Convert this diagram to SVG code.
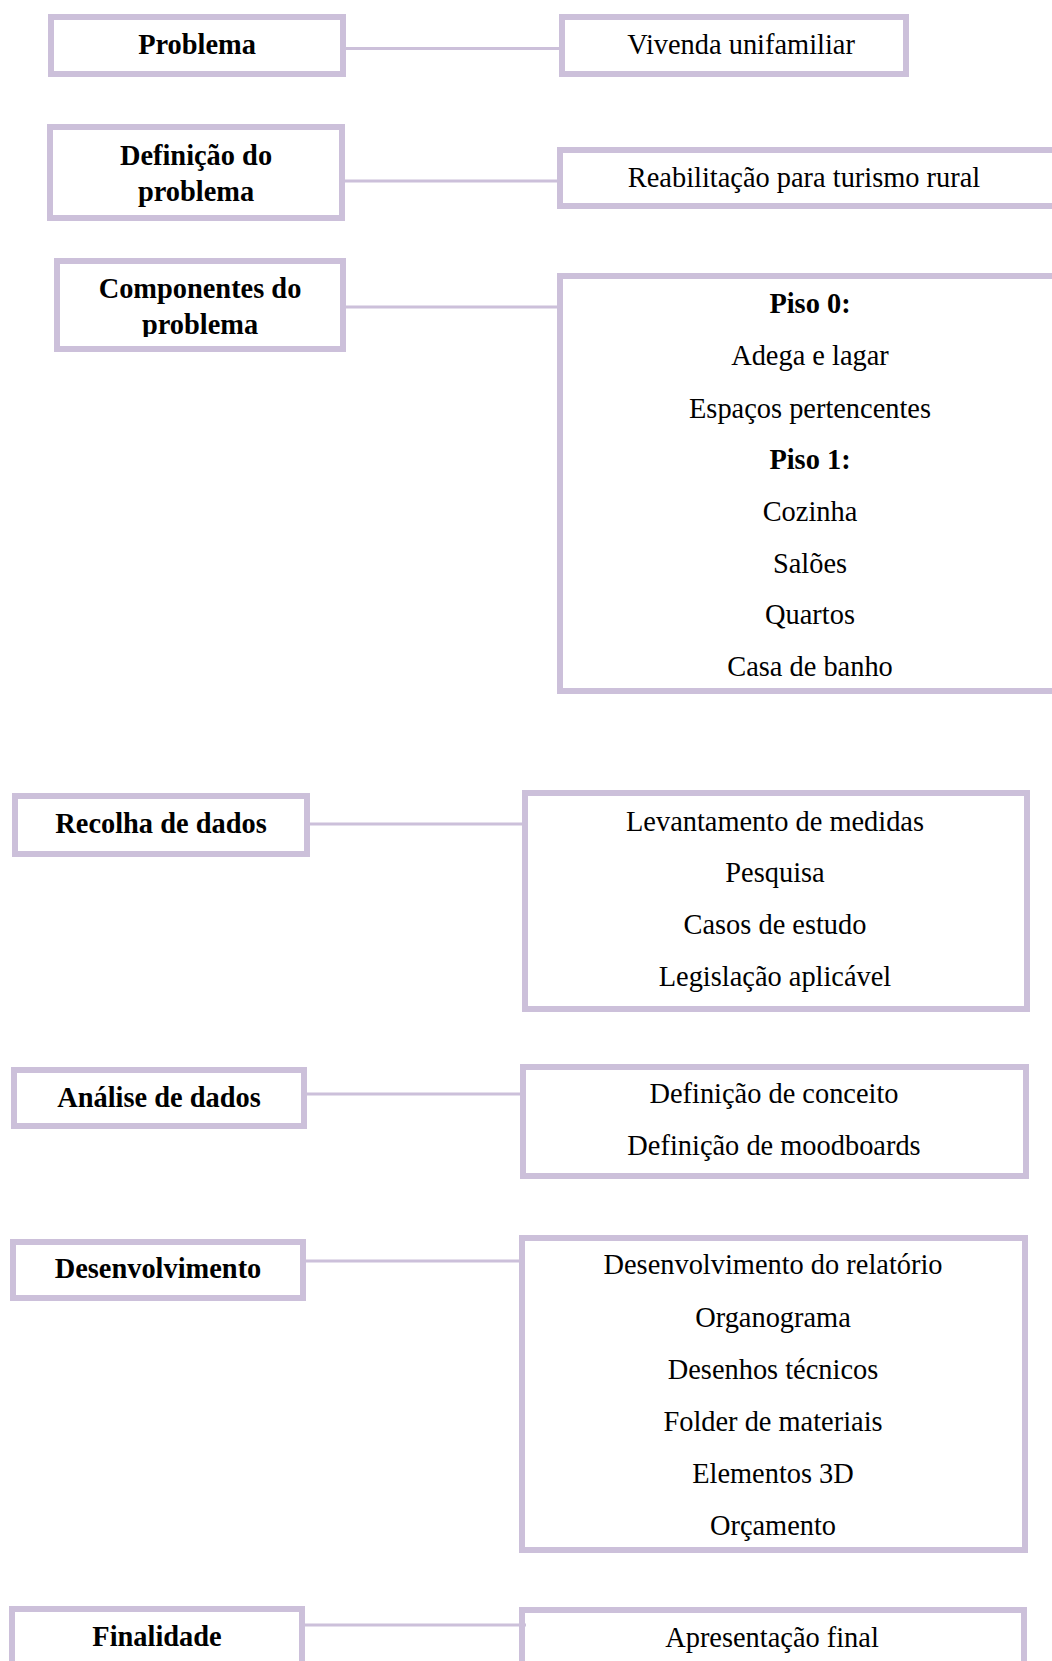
<svg xmlns="http://www.w3.org/2000/svg" width="1052" height="1661" viewBox="0 0 1052 1661">
<style>
.box{fill:#FFFFFF;stroke:#CCC0DA;stroke-width:6}
.con{stroke:#CCC0DA;stroke-width:3;fill:none}
text{font-family:"Liberation Serif","Times New Roman",serif;font-size:28.4px;fill:#000000;text-anchor:middle}
.b{font-weight:bold}
</style>
<defs>
<clipPath id="clip3"><rect x="57" y="261" width="286" height="76"/></clipPath>
</defs>
<rect x="0" y="0" width="1052" height="1661" fill="#FFFFFF"/>
<g id="n-problema">
<rect class="box" x="51" y="17" width="292" height="57"/>
<text class="b" x="197" y="54">Problema</text>
</g>
<g id="n-vivenda">
<rect class="box" x="562" y="17" width="344" height="57"/>
<text x="741" y="54">Vivenda unifamiliar</text>
</g>
<g id="n-definicao">
<rect class="box" x="50" y="127" width="292" height="91"/>
<text class="b" x="196" y="165">Definição do</text>
<text class="b" x="196" y="201">problema</text>
</g>
<g id="n-reabilitacao">
<rect class="box" x="560" y="150" width="502" height="56"/>
<text x="804" y="187">Reabilitação para turismo rural</text>
</g>
<g id="n-componentes">
<rect class="box" x="57" y="261" width="286" height="88"/>
<g clip-path="url(#clip3)">
<text class="b" x="200" y="298">Componentes do</text>
<text class="b" x="200" y="334">problema</text>
</g>
</g>
<g id="n-pisos">
<rect class="box" x="560" y="276" width="502" height="415"/>
<text class="b" x="810" y="312.5">Piso 0:</text>
<text x="810" y="364.5">Adega e lagar</text>
<text x="810" y="417.5">Espaços pertencentes</text>
<text class="b" x="810" y="468.5">Piso 1:</text>
<text x="810" y="520.5">Cozinha</text>
<text x="810" y="572.5">Salões</text>
<text x="810" y="624">Quartos</text>
<text x="810" y="676">Casa de banho</text>
</g>
<g id="n-recolha">
<rect class="box" x="15" y="796" width="292" height="58"/>
<text class="b" x="161" y="833">Recolha de dados</text>
</g>
<g id="n-recolha-itens">
<rect class="box" x="525" y="793" width="502" height="216"/>
<text x="775" y="831">Levantamento de medidas</text>
<text x="775" y="882">Pesquisa</text>
<text x="775" y="934">Casos de estudo</text>
<text x="775" y="986">Legislação aplicável</text>
</g>
<g id="n-analise">
<rect class="box" x="14" y="1070" width="290" height="56"/>
<text class="b" x="159" y="1107">Análise de dados</text>
</g>
<g id="n-analise-itens">
<rect class="box" x="523" y="1067" width="503" height="109"/>
<text x="774" y="1103">Definição de conceito</text>
<text x="774" y="1155">Definição de moodboards</text>
</g>
<g id="n-desenvolvimento">
<rect class="box" x="13" y="1242" width="290" height="56"/>
<text class="b" x="158" y="1278">Desenvolvimento</text>
</g>
<g id="n-desenvolvimento-itens">
<rect class="box" x="522" y="1238" width="503" height="312"/>
<text x="773" y="1274">Desenvolvimento do relatório</text>
<text x="773" y="1327">Organograma</text>
<text x="773" y="1379">Desenhos técnicos</text>
<text x="773" y="1431">Folder de materiais</text>
<text x="773" y="1483">Elementos 3D</text>
<text x="773" y="1535">Orçamento</text>
</g>
<g id="n-finalidade">
<rect class="box" x="12" y="1609" width="290" height="70"/>
<text class="b" x="157" y="1646">Finalidade</text>
</g>
<g id="n-apresentacao">
<rect class="box" x="522" y="1610" width="502" height="70"/>
<text x="772" y="1647">Apresentação final</text>
</g>
<g id="connectors">
<line class="con" x1="346" y1="48.5" x2="559" y2="48.5"/>
<line class="con" x1="345" y1="181" x2="557" y2="181"/>
<line class="con" x1="346" y1="307" x2="557" y2="307"/>
<line class="con" x1="310" y1="824" x2="522" y2="824"/>
<line class="con" x1="307" y1="1094" x2="520" y2="1094"/>
<line class="con" x1="306" y1="1261" x2="519" y2="1261"/>
<line class="con" x1="305" y1="1625" x2="526" y2="1625"/>
</g>
</svg>
